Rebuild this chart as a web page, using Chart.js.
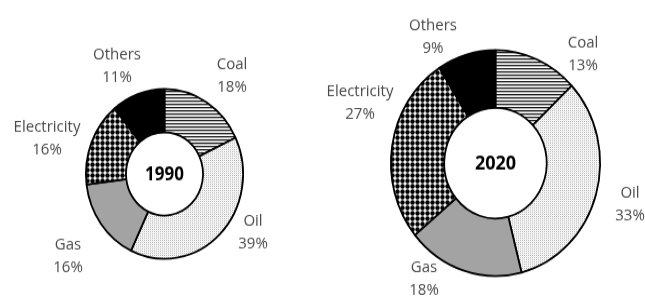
<!DOCTYPE html>
<html>
<head>
<meta charset="utf-8">
<script src="https://cdn.jsdelivr.net/npm/chart.js@4"></script>
<style>
  html, body { margin: 0; padding: 0; background: #fff; }
  #wrap { position: relative; width: 645px; height: 297px; overflow: hidden; }
  #wrap canvas { position: absolute; left: 0; top: 0; }
</style>
</head>
<body>
<div id="wrap">
  <canvas id="chart1990" width="645" height="275" style="width:645px;height:297px"></canvas>
  <canvas id="chart2020" width="645" height="275" style="width:645px;height:297px"></canvas>
</div>
<script>
// energy sources, clockwise from 12 o'clock
const sources = ['Coal', 'Oil', 'Gas', 'Electricity', 'Others'];
const share1990 = [18, 39, 16, 16, 11];
const share2020 = [13, 33, 18, 27, 9];
const years = ['1990', '2020'];

// small tiles used as fills
const makeTile = (w, h, draw) => {
  const c = document.createElement('canvas');
  c.width = w; c.height = h;
  const g = c.getContext('2d');
  g.fillStyle = '#fff';
  g.fillRect(0, 0, w, h);
  draw(g);
  return g.createPattern(c, 'repeat');
};

const stripes = makeTile(4, 3, g => {
  g.fillStyle = '#1a1a1a';
  g.fillRect(0, 0, 4, 1.3);
});
const stipple = makeTile(2, 2, g => {
  g.fillStyle = '#b4b4b4';
  g.fillRect(0, 0, 1, 1);
  g.fillStyle = '#ececec';
  g.fillRect(1, 1, 1, 1);
});
const dots = makeTile(5, 5, g => {
  g.fillStyle = '#000';
  g.beginPath();
  g.arc(2.5, 2.5, 2.2, 0, Math.PI * 2);
  g.fill();
});
const fills = [stripes, stipple, '#a3a3a3', dots, '#000'];

// draws "name / value%" outside each slice and the year in the hole
const outLabels = {
  id: 'outLabels',
  afterDraw(chart, args, opts) {
    const ctx = chart.ctx;
    const first = chart.getDatasetMeta(0).data[0];
    const cx = first.x, cy = first.y;
    const vals = chart.data.datasets[0].data;
    ctx.save();
    ctx.textAlign = 'center';
    ctx.textBaseline = 'middle';
    ctx.font = '15px "Open Sans"';
    ctx.fillStyle = '#4a4a4a';
    chart.data.labels.forEach((name, i) => {
      const [dx, dy] = opts.offsets[i];
      ctx.fillText(name, cx + dx, cy + dy - 10.5);
      ctx.fillText(vals[i] + '%', cx + dx, cy + dy + 10.5);
    });
    ctx.font = 'bold ' + opts.titleSize + 'px "Open Sans"';
    ctx.fillStyle = '#000';
    ctx.fillText(opts.title, cx, cy + 1);
    ctx.restore();
  }
};

const makeDonut = (id, values, year, padding, offsets, titleSize) => {
  return new Chart(document.getElementById(id), {
    type: 'doughnut',
    data: {
      labels: sources,
      datasets: [{
        data: values,
        backgroundColor: fills,
        borderColor: '#000',
        borderWidth: 1.8
      }]
    },
    options: {
      responsive: false,
      animation: false,
      events: [],
      cutout: '49%',
      layout: { padding },
      plugins: {
        legend: { display: false },
        tooltip: { enabled: false },
        outLabels: { offsets, title: year, titleSize }
      }
    },
    plugins: [outLabels]
  });
};

makeDonut('chart1990', share1990, years[0],
  { left: 85, right: 401, top: 81.5, bottom: 34.5 },
  [[67.5, -90.7], [88.5, 54.6], [-96.5, 76.4], [-117.5, -32.9], [-47.5, -99.5]], 17);

makeDonut('chart2020', share2020, years[1],
  { left: 390, right: 44, top: 45.5, bottom: 18.5 },
  [[87.5, -100.5], [134.5, 38.4], [-71.5, 107.4], [-135.5, -56], [-62.5, -117.1]], 18);
</script>
</body>
</html>
